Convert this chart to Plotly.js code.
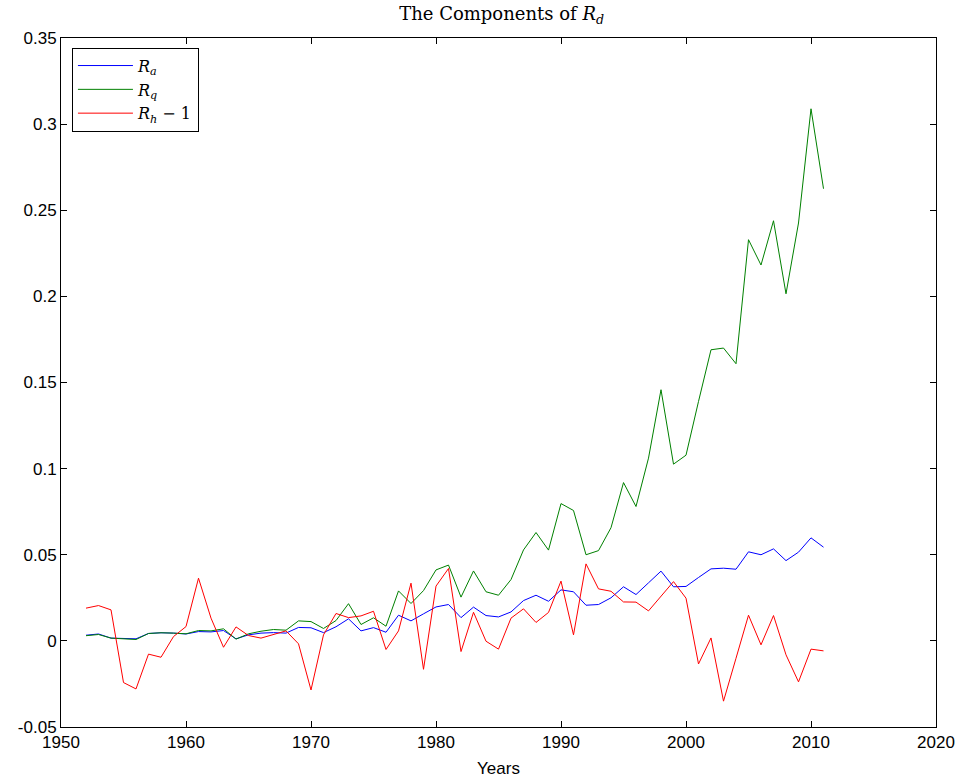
<!DOCTYPE html>
<html>
<head>
<meta charset="utf-8">
<script src="https://cdn.plot.ly/plotly-3.0.1.min.js"></script>
<style>html,body{margin:0;padding:0;background:#fff;}#chart{width:961px;height:782px;}</style>
</head>
<body>
<div id="chart"></div>
<script>
const years = [];
for (let y = 1952; y <= 2011; y++) years.push(y);

const Ra = [0.0033,0.0040,0.0016,0.0014,0.0012,0.0043,0.0047,0.0045,0.0040,0.0054,
            0.0052,0.0060,0.0012,0.0035,0.0045,0.0048,0.0045,0.0078,0.0076,0.0048,
            0.0082,0.0128,0.0058,0.0077,0.0050,0.0149,0.0116,0.0157,0.0197,0.0211,
            0.0135,0.0196,0.0147,0.0139,0.0168,0.0234,0.0265,0.0230,0.0296,0.0285,
            0.0207,0.0211,0.0250,0.0314,0.0269,0.0337,0.0405,0.0314,0.0316,0.0368,
            0.0418,0.0422,0.0416,0.0517,0.0500,0.0534,0.0466,0.0515,0.0598,0.0544];

const Rq = [0.0030,0.0037,0.0016,0.0014,0.0008,0.0043,0.0047,0.0045,0.0041,0.0060,
            0.0058,0.0070,0.0010,0.0041,0.0056,0.0066,0.0062,0.0116,0.0112,0.0072,
            0.0118,0.0216,0.0095,0.0134,0.0085,0.0290,0.0217,0.0292,0.0412,0.0440,
            0.0254,0.0406,0.0285,0.0265,0.0356,0.0528,0.0629,0.0527,0.0797,0.0757,
            0.0500,0.0524,0.0657,0.0919,0.0780,0.1061,0.1458,0.1026,0.1078,0.1390,
            0.1690,0.1700,0.1609,0.2329,0.2182,0.2439,0.2015,0.2426,0.3089,0.2625];

const RhMinus1 = [0.0190,0.0205,0.0180,-0.0242,-0.0279,-0.0077,-0.0095,0.0025,0.0083,0.0364,
                  0.0132,-0.0037,0.0081,0.0031,0.0016,0.0035,0.0058,-0.0017,-0.0285,0.0035,
                  0.0159,0.0135,0.0145,0.0172,-0.0050,0.0058,0.0335,-0.0165,0.0318,0.0420,
                  -0.0062,0.0166,-0.0002,-0.0048,0.0132,0.0186,0.0107,0.0165,0.0347,0.0035,
                  0.0447,0.0302,0.0288,0.0226,0.0225,0.0174,0.0260,0.0344,0.0248,-0.0134,
                  0.0017,-0.0350,-0.0101,0.0149,-0.0023,0.0147,-0.0081,-0.0238,-0.0048,-0.0058];

const seriesNames = ['<i>R</i><sub><i>a</i></sub>', '<i>R</i><sub><i>q</i></sub>', '<i>R</i><sub><i>h</i></sub> − 1'];
const xTickVals = [1950,1960,1970,1980,1990,2000,2010,2020];
const yTickVals = [-0.05,0,0.05,0.1,0.15,0.2,0.25,0.3,0.35];
const yTickText = ['-0.05','0','0.05','0.1','0.15','0.2','0.25','0.3','0.35'];

const traces = [
  {x: years, y: Ra, name: seriesNames[0], mode: 'lines', line: {color: '#0000ff', width: 1}},
  {x: years, y: Rq, name: seriesNames[1], mode: 'lines', line: {color: '#008000', width: 1}},
  {x: years, y: RhMinus1, name: seriesNames[2], mode: 'lines', line: {color: '#ff0000', width: 1}}
];

const axisCommon = {
  showline: true, linecolor: '#000', linewidth: 1, mirror: 'ticks',
  ticks: 'inside', ticklen: 6, tickcolor: '#000', tickwidth: 1,
  showgrid: false, zeroline: false,
  tickfont: {family: 'Liberation Sans, Arial, sans-serif', size: 17, color: '#000'}
};

const layout = {
  width: 961, height: 782,
  margin: {l: 61, r: 25, t: 38, b: 55},
  paper_bgcolor: '#fff', plot_bgcolor: '#fff',
  title: {text: 'The Components of <i>R</i><sub><i>d</i></sub>',
          font: {family: 'DejaVu Serif, Liberation Serif, serif', size: 18, color: '#000'},
          x: 0.522, xanchor: 'center', y: 0.99, yanchor: 'top'},
  xaxis: Object.assign({}, axisCommon, {
    range: [1950, 2020], tickvals: xTickVals,
    title: {text: 'Years', font: {family: 'Liberation Sans, Arial, sans-serif', size: 17, color: '#000'}, standoff: 10}
  }),
  yaxis: Object.assign({}, axisCommon, {
    range: [-0.05, 0.35], tickvals: yTickVals, ticktext: yTickText
  }),
  showlegend: true,
  legend: {
    x: 0.0125, y: 0.986, xanchor: 'left', yanchor: 'top',
    bgcolor: '#fff', bordercolor: '#000', borderwidth: 1,
    font: {family: 'DejaVu Serif, Liberation Serif, serif', size: 16, color: '#000'},
    tracegroupgap: 0, itemwidth: 55
  }
};

Plotly.newPlot('chart', traces, layout, {displayModeBar: false, staticPlot: true});
</script>
</body>
</html>
